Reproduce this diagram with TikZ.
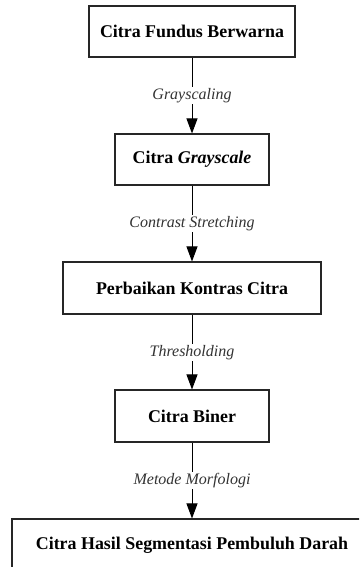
\documentclass[tikz,border=0pt]{standalone}
\usepackage{fontspec}
\setmainfont{Liberation Serif}
\usetikzlibrary{arrows.meta}
\begin{document}
\begin{tikzpicture}[x=1pt,y=-1pt,
  box/.style={draw=black!85,line width=1.1pt,inner sep=0pt,font=\fontsize{17.9}{20}\selectfont\bfseries},
  lab/.style={fill=white,inner sep=1pt,font=\fontsize{16}{18}\selectfont\itshape,text=black!80},
  conn/.style={line width=0.9pt,-{Triangle[width=11pt,length=15pt]}}]
\useasboundingbox (0,0) rectangle (359,567);
\clip (0,0) rectangle (359,567);
\node[box,minimum width=206pt,minimum height=51pt] (b1) at (192,31.5) {Citra Fundus Berwarna};
\node[box,minimum width=154pt,minimum height=51pt] (b2) at (192,159.5) {Citra \textit{Grayscale}};
\node[box,minimum width=258pt,minimum height=52pt] (b3) at (192,288) {Perbaikan Kontras Citra};
\node[box,minimum width=154pt,minimum height=52pt] (b4) at (192,416) {Citra Biner};
\node[box,minimum width=360pt,minimum height=52pt] (b5) at (192,545) {Citra Hasil Segmentasi Pembuluh Darah};
\draw[conn] (b1) -- node[lab,pos=0.5] {Grayscaling} (b2);
\draw[conn] (b2) -- node[lab,pos=0.5] {Contrast Stretching} (b3);
\draw[conn] (b3) -- node[lab,pos=0.51] {Thresholding} (b4);
\draw[conn] (b4) -- node[lab,pos=0.5] {Metode Morfologi} (b5);
\end{tikzpicture}
\end{document}
